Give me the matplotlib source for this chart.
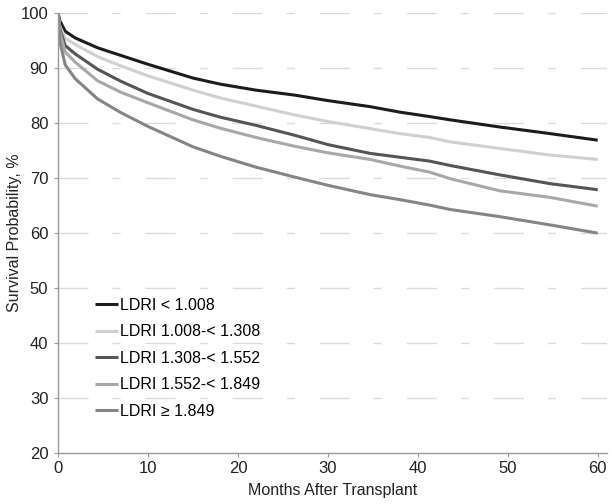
import matplotlib
matplotlib.use("Agg")
import matplotlib.pyplot as plt

plt.rcParams['font.family'] = ['Liberation Sans', 'DejaVu Sans']
plt.rcParams['lines.scale_dashes'] = False

# values (survival %, by months after transplant)
months = [0, 0.2, 0.8, 1.9, 4.4, 7, 10, 15, 18, 22, 26.3, 30, 34.7, 38, 41.3, 43.6, 49.1, 54.7, 60]
ldri_1 = [100, 98.5, 96.6, 95.4, 93.6, 92.2, 90.6, 88.1, 87.0, 85.9, 85.0, 84.0, 82.9, 81.9, 81.1, 80.5, 79.2, 78.0, 76.8]
ldri_2 = [100, 97.5, 95.3, 94.2, 92.0, 90.3, 88.5, 85.9, 84.5, 83.0, 81.4, 80.2, 78.9, 78.0, 77.3, 76.5, 75.3, 74.1, 73.3]
ldri_3 = [100, 97.0, 94.0, 92.5, 89.7, 87.5, 85.3, 82.4, 81.0, 79.5, 77.7, 76.0, 74.4, 73.7, 73.0, 72.2, 70.5, 68.9, 67.8]
ldri_4 = [100, 96.5, 92.8, 91.0, 87.6, 85.5, 83.6, 80.5, 79.0, 77.3, 75.7, 74.5, 73.3, 72.1, 71.0, 69.8, 67.6, 66.4, 64.8]
ldri_5 = [100, 94.7, 90.5, 88.0, 84.3, 81.8, 79.3, 75.6, 73.9, 71.9, 70.1, 68.6, 66.9, 66.0, 65.0, 64.2, 62.9, 61.4, 59.9]

labels = ['LDRI < 1.008', 'LDRI 1.008-< 1.308', 'LDRI 1.308-< 1.552',
          'LDRI 1.552-< 1.849', 'LDRI \u2265 1.849']
colors = ['#1c1c1c', '#d0d0d0', '#555555', '#a8a8a8', '#858585']
yticks = [20, 30, 40, 50, 60, 70, 80, 90, 100]
xticks = [0, 10, 20, 30, 40, 50, 60]

fig = plt.figure(figsize=(6.11, 5.04), dpi=100)
ax = fig.add_axes([0.095, 0.102, 0.898, 0.873])

for yv in yticks[1:]:
    ax.axhline(yv, color='#dcdcdc', lw=1.0, dashes=(21.6, 17.3, 5.8, 18), zorder=0)

for vals, lab, col in zip([ldri_1, ldri_2, ldri_3, ldri_4, ldri_5], labels, colors):
    ax.plot(months, vals, color=col, lw=2.2, label=lab, solid_capstyle='butt')

ax.set_xlim(0, 61)
ax.set_ylim(20, 100)
ax.set_xticks(xticks)
ax.set_yticks(yticks)
for s in ['top', 'right']:
    ax.spines[s].set_visible(False)
for s in ['left', 'bottom']:
    ax.spines[s].set_color('#9a9a9a')
    ax.spines[s].set_linewidth(1.0)
ax.tick_params(axis='both', colors='#9a9a9a', labelcolor='#222222', labelsize=12, length=3)
ax.tick_params(axis='y', pad=4)
ax.tick_params(axis='x', pad=3)

ax.set_xlabel('Months After Transplant', fontsize=11.5, color='#222222', labelpad=5)
ax.set_ylabel('Survival Probability, %', fontsize=11.5, color='#222222')
ax.yaxis.set_label_coords(-0.066, 0.5)

ax.legend(loc='upper left', bbox_to_anchor=(0.053, 0.37), frameon=False, fontsize=11.5,
          handlelength=1.45, handletextpad=0.12, labelspacing=0.72, borderpad=0)

fig.savefig('out.png', dpi=100)
